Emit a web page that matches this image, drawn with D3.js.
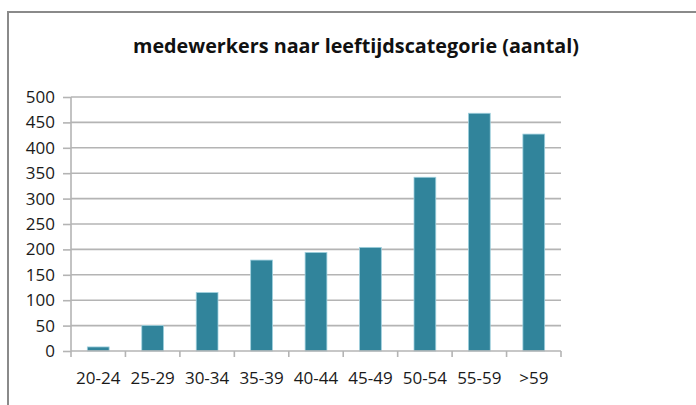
<!DOCTYPE html>
<html>
<head>
<meta charset="utf-8">
<script src="https://cdn.jsdelivr.net/npm/d3@7"></script>
<style>
  body { margin: 0; background: #fff; }
  svg { display: block; font-family: "Open Sans", sans-serif; }
</style>
</head>
<body>
<svg width="696" height="405"></svg>
<script>
// data
var categories = ["20-24", "25-29", "30-34", "35-39", "40-44", "45-49", "50-54", "55-59", ">59"];
var counts = [8, 50, 115, 179, 194, 204, 342, 468, 427];
var yTicks = [0, 50, 100, 150, 200, 250, 300, 350, 400, 450, 500];

var svg = d3.select("svg"),
    margin = { top: 97, right: 135, bottom: 54, left: 71 },
    width = +svg.attr("width") - margin.left - margin.right,
    height = +svg.attr("height") - margin.top - margin.bottom;

var data = categories.map(function(c, i) {
    return { cat: c, count: counts[i] };
});

// outer frame (only top and left visible)
svg.append("path")
    .attr("d", "M8,405V12H696")
    .attr("fill", "none")
    .attr("stroke", "#8a8a8a")
    .attr("stroke-width", 2);

// title
svg.append("text")
    .attr("x", 356)
    .attr("y", 53)
    .attr("text-anchor", "middle")
    .style("font-size", "19.5px")
    .style("font-weight", "bold")
    .attr("fill", "#111")
    .attr("textLength", 446)
    .attr("lengthAdjust", "spacingAndGlyphs")
    .text("medewerkers naar leeftijdscategorie (aantal)");

var x = d3.scaleBand()
    .domain(categories)
    .range([0, width])
    .paddingInner(0.6)
    .paddingOuter(0.3);

var xb = d3.scaleBand()
    .domain(categories)
    .range([0, width]);

var y = d3.scaleLinear()
    .domain([0, 500])
    .range([height, 0]);

var chart = svg.append("g")
    .attr("transform", "translate(" + margin.left + "," + margin.top + ")");

// gridlines
chart.append("g")
    .selectAll("line")
    .data(yTicks.slice(1))
    .enter()
    .append("line")
    .attr("x1", 0)
    .attr("x2", width)
    .attr("y1", function(d) { return y(d); })
    .attr("y2", function(d) { return y(d); })
    .attr("stroke", "#b4b4b4")
    .attr("stroke-width", 1.6);

// y axis
var yAxis = chart.append("g")
    .call(d3.axisLeft(y).tickValues(yTicks).tickSize(8).tickPadding(8));
yAxis.selectAll("line, path").attr("stroke", "#b4b4b4").attr("stroke-width", 1.6);
yAxis.select(".domain").attr("d", "M0," + height + "V0");
yAxis.selectAll("text")
    .style("font-size", "17px")
    .style("font-family", "'Open Sans', sans-serif")
    .attr("fill", "#1a1a1a");

// bars
chart.selectAll(".bar")
    .data(data)
    .enter()
    .append("rect")
    .attr("class", "bar")
    .attr("x", function(d) { return x(d.cat); })
    .attr("y", function(d) { return y(d.count); })
    .attr("width", x.bandwidth())
    .attr("height", function(d) { return height - y(d.count); })
    .attr("fill", "#31849b")
    .attr("stroke", "#9fd0de")
    .attr("stroke-width", 0.8);

// x axis with ticks at the band edges
var xAxis = chart.append("g")
    .attr("transform", "translate(0," + height + ")");
xAxis.append("line")
    .attr("x1", 0)
    .attr("x2", width)
    .attr("stroke", "#b4b4b4")
    .attr("stroke-width", 1.6);
xAxis.selectAll(".tk")
    .data(categories.concat(["end"]))
    .enter()
    .append("line")
    .attr("class", "tk")
    .attr("x1", function(d, i) { return i * xb.step(); })
    .attr("x2", function(d, i) { return i * xb.step(); })
    .attr("y1", 0)
    .attr("y2", 6)
    .attr("stroke", "#b4b4b4")
    .attr("stroke-width", 1.6);
xAxis.selectAll(".lbl")
    .data(categories)
    .enter()
    .append("text")
    .attr("class", "lbl")
    .attr("x", function(d) { return xb(d) + xb.bandwidth() / 2; })
    .attr("y", 33)
    .attr("text-anchor", "middle")
    .style("font-size", "17px")
    .attr("fill", "#1a1a1a")
    .text(function(d) { return d; });
</script>
</body>
</html>
